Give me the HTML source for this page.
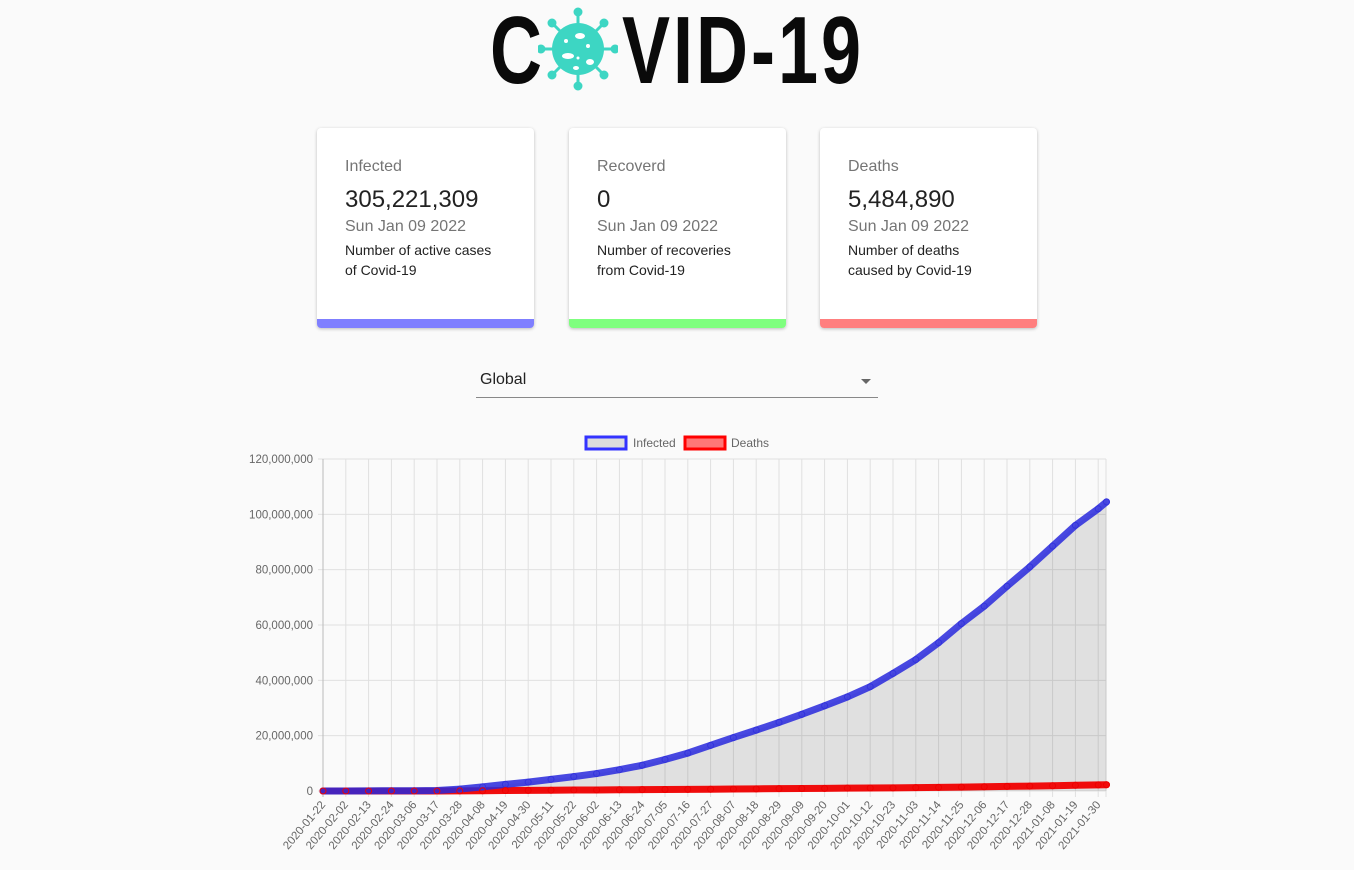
<!DOCTYPE html>
<html><head><meta charset="utf-8"><style>
body{margin:0;width:1354px;height:870px;background:#fafafa;font-family:"Liberation Sans",sans-serif;position:relative;overflow:hidden}
.logo{position:absolute;top:6px;left:490px;height:90px;font-family:"Liberation Sans Narrow","Liberation Sans",sans-serif;font-weight:bold;font-size:96px;color:#0a0a0a;line-height:90px}
.card{position:absolute;top:128px;width:217px;height:200px;background:#fff;border-radius:4px;box-shadow:0 1px 3px rgba(0,0,0,.25);overflow:hidden}
.card .t{position:absolute;left:28px;top:30px;font-size:16px;color:#757575}
.card .v{position:absolute;left:28px;top:58px;font-size:24px;color:#222}
.card .d{position:absolute;left:28px;top:90px;font-size:16px;color:#757575}
.card .n{position:absolute;left:28px;top:112px;font-size:14px;color:#222;line-height:20px}
.card .bar{position:absolute;left:0;right:0;bottom:0;height:9px}
.sel{position:absolute;left:476px;top:368px;width:402px;height:29px;border-bottom:1px solid #888}
</style></head><body>
<div class="logo">
<span style="position:absolute;left:0;top:0;transform:scaleX(0.75);transform-origin:left">C</span>
<svg style="position:absolute;left:48px;top:0" width="80" height="86" viewBox="0 0 80 86">
<g stroke="#3dd6c3" stroke-width="3" fill="#3dd6c3">
<line x1="40" y1="43" x2="40" y2="6"/><line x1="40" y1="43" x2="40" y2="80"/><line x1="40" y1="43" x2="3" y2="43"/><line x1="40" y1="43" x2="77" y2="43"/>
<line x1="40" y1="43" x2="14" y2="17"/><line x1="40" y1="43" x2="66" y2="17"/><line x1="40" y1="43" x2="14" y2="69"/><line x1="40" y1="43" x2="66" y2="69"/>
<circle cx="40" cy="6" r="3"/><circle cx="40" cy="80" r="3"/><circle cx="3" cy="43" r="3"/><circle cx="77" cy="43" r="3"/>
<circle cx="14" cy="17" r="3"/><circle cx="66" cy="17" r="3"/><circle cx="14" cy="69" r="3"/><circle cx="66" cy="69" r="3"/>
<circle cx="40" cy="43" r="26" stroke="none"/></g>
<g fill="#fff"><ellipse cx="42" cy="30" rx="5" ry="3"/><ellipse cx="30" cy="50" rx="6" ry="3"/><ellipse cx="52" cy="56" rx="4" ry="3"/><circle cx="50" cy="40" r="2"/><circle cx="28" cy="35" r="2"/><circle cx="40" cy="52" r="1.5"/><ellipse cx="38" cy="62" rx="3" ry="2"/></g>
</svg>
<span style="position:absolute;left:132px;top:0;transform:scaleX(0.75);transform-origin:left;white-space:nowrap;letter-spacing:4px">VID-19</span>
</div>

<div class="card" style="left:317px"><div class="t">Infected</div><div class="v">305,221,309</div><div class="d">Sun Jan 09 2022</div><div class="n">Number of active cases<br>of Covid-19</div><div class="bar" style="background:rgba(0,0,255,.5)"></div></div>
<div class="card" style="left:569px"><div class="t">Recoverd</div><div class="v">0</div><div class="d">Sun Jan 09 2022</div><div class="n">Number of recoveries<br>from Covid-19</div><div class="bar" style="background:rgba(0,255,0,.5)"></div></div>
<div class="card" style="left:820px"><div class="t">Deaths</div><div class="v">5,484,890</div><div class="d">Sun Jan 09 2022</div><div class="n">Number of deaths<br>caused by Covid-19</div><div class="bar" style="background:rgba(255,0,0,.5)"></div></div>

<div class="sel"><span style="position:absolute;left:4px;top:3px;font-size:16px;color:#222">Global</span>
<svg style="position:absolute;left:384px;top:10px" width="12" height="8"><path d="M1 1 L11 1 L6 6Z" fill="#666"/></svg></div>

<svg id="chart" width="1354" height="870" style="position:absolute;left:0;top:0"></svg>
<script>
const labels=["2020-01-22","2020-02-02","2020-02-13","2020-02-24","2020-03-06","2020-03-17","2020-03-28","2020-04-08","2020-04-19","2020-04-30","2020-05-11","2020-05-22","2020-06-02","2020-06-13","2020-06-24","2020-07-05","2020-07-16","2020-07-27","2020-08-07","2020-08-18","2020-08-29","2020-09-09","2020-09-20","2020-10-01","2020-10-12","2020-10-23","2020-11-03","2020-11-14","2020-11-25","2020-12-06","2020-12-17","2020-12-28","2021-01-08","2021-01-19","2021-01-30"];
const infected=[0.0006,0.017,0.06,0.08,0.1,0.2,0.7,1.5,2.4,3.2,4.2,5.2,6.3,7.7,9.3,11.4,13.7,16.5,19.3,22,24.8,27.7,30.8,34,37.7,42.5,47.5,53.6,60.5,66.8,74,81,88.5,96,102,104.5];
const deaths=[0,0,0.001,0.003,0.004,0.008,0.03,0.09,0.16,0.23,0.29,0.34,0.38,0.43,0.49,0.53,0.58,0.65,0.72,0.78,0.84,0.9,0.96,1.02,1.08,1.14,1.21,1.3,1.41,1.53,1.65,1.78,1.91,2.06,2.2,2.25];
const yTicks=[0,20,40,60,80,100,120];
const ns="http://www.w3.org/2000/svg",svg=document.getElementById('chart');
const x0=323,y0=791,pxDay=22.8/11,pxM=(791-459)/120;
const X=i=>i<35?x0+i*22.8:x0+34*22.8+4*pxDay;
const Y=v=>y0-v*pxM;
function mk(t,a){const e=document.createElementNS(ns,t);for(const k in a)e.setAttribute(k,a[k]);svg.appendChild(e);return e}
yTicks.forEach(v=>{const l=mk('line',{x1:318,x2:1106,y1:Y(v),y2:Y(v),stroke:'#e0e0e0'});

const t=mk('text',{x:313,y:Y(v)+4,'text-anchor':'end','font-size':11.5,fill:'#666','font-family':'Liberation Sans'});t.textContent=(v*1e6).toLocaleString('en-US');
});
labels.forEach((s,i)=>{const x=X(i);const l=mk('line',{x1:x,x2:x,y1:459,y2:797,stroke:i==0?'#bbb':'#e0e0e0'});

const t=mk('text',{x:x+3,y:805,'text-anchor':'end','font-size':11.5,fill:'#666','font-family':'Liberation Sans',transform:`rotate(-50 ${x+3} 805)`});t.textContent=s;
});
mk('line',{x1:1106,x2:1106,y1:459,y2:797,stroke:'#e0e0e0'});
const pi=infected.map((v,i)=>X(i)+','+Y(v)).join(' ');
const area=mk('polygon',{points:x0+','+y0+' '+pi+' '+X(35)+','+y0,fill:'rgba(0,0,0,0.1)'});

const ld=mk('polyline',{points:deaths.map((v,i)=>X(i)+','+Y(v)).join(' '),fill:'none',stroke:'rgba(240,0,0,0.95)','stroke-width':7,'stroke-linejoin':'round','stroke-linecap':'round'});

const li=mk('polyline',{points:pi,fill:'none',stroke:'rgba(40,40,220,0.85)','stroke-width':7,'stroke-linejoin':'round','stroke-linecap':'round'});

infected.forEach((v,i)=>{const c=mk('circle',{cx:X(i),cy:Y(v),r:3,fill:'none',stroke:'#3333dd'});});
deaths.forEach((v,i)=>{const c=mk('circle',{cx:X(i),cy:Y(v),r:3,fill:'none',stroke:'#e00'});});
const lg1=mk('rect',{x:586,y:437,width:40,height:12,fill:'#ddd',stroke:'#33f','stroke-width':3});
const t1=mk('text',{x:633,y:447,'font-size':12,fill:'#666','font-family':'Liberation Sans'});t1.textContent='Infected';
const lg2=mk('rect',{x:685,y:437,width:40,height:12,fill:'#ff7777',stroke:'#f00','stroke-width':3});
const t2=mk('text',{x:731,y:447,'font-size':12,fill:'#666','font-family':'Liberation Sans'});t2.textContent='Deaths';
</script>
</body></html>
